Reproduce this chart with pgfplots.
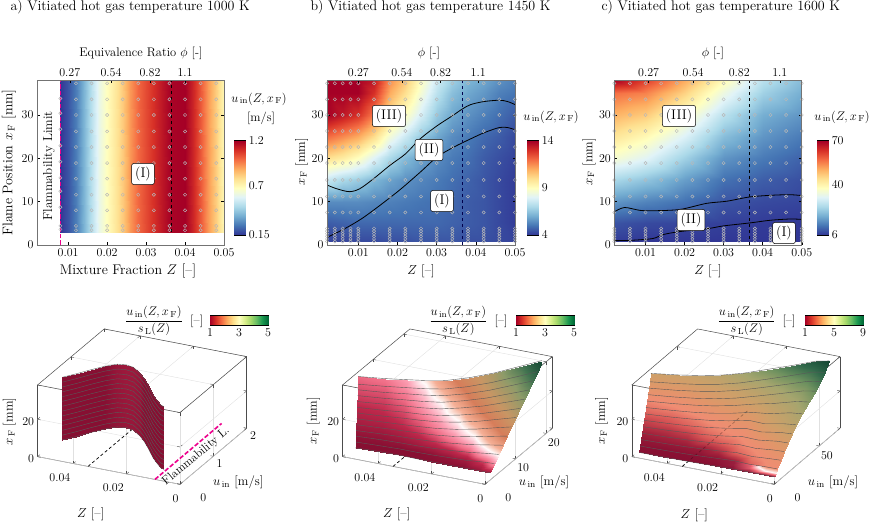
\documentclass[border=0pt]{standalone}
\usepackage{fix-cm}
\usepackage{pgfplots}
\usepackage{pgfplotstable}
\pgfplotsset{compat=1.18}
\newcommand{\fs}[1]{\fontsize{#1}{#1}\selectfont}
\newcommand{\uin}{u_{\,\mathrm{in}}}
\newcommand{\xf}{x_{\,\mathrm{F}}}

\pgfplotsset{
  colormap={rdylbu}{rgb255=(49,54,149) rgb255=(69,117,180) rgb255=(116,173,209) rgb255=(171,217,233) rgb255=(224,243,248) rgb255=(255,255,191) rgb255=(254,224,144) rgb255=(253,174,97) rgb255=(244,109,67) rgb255=(215,48,39) rgb255=(165,0,38)},
  colormap={rdylgn}{rgb255=(165,0,38) rgb255=(215,48,39) rgb255=(244,109,67) rgb255=(253,174,97) rgb255=(254,224,139) rgb255=(255,255,191) rgb255=(217,239,139) rgb255=(166,217,106) rgb255=(102,189,99) rgb255=(26,152,80) rgb255=(0,104,55)},
  colormap={surfb}{rgb255(0pt)=(135,15,50) rgb255(5pt)=(190,40,75) rgb255(9pt)=(240,110,135) rgb255(12.5pt)=(252,160,180) rgb255(17.5pt)=(255,250,250) rgb255(22.5pt)=(245,175,150) rgb255(32.5pt)=(215,125,90) rgb255(45pt)=(200,150,100) rgb255(62.5pt)=(140,155,105) rgb255(80pt)=(65,115,80) rgb255(100pt)=(18,70,50)},
  colormap={surfc}{rgb255(0pt)=(135,15,50) rgb255(7.5pt)=(165,35,60) rgb255(17.5pt)=(215,85,85) rgb255(27.5pt)=(240,140,115) rgb255(37.5pt)=(225,150,105) rgb255(47.5pt)=(205,160,105) rgb255(62.5pt)=(165,165,110) rgb255(75pt)=(110,145,95) rgb255(87.5pt)=(50,105,75) rgb255(100pt)=(18,70,50)},
  colormap={ridge}{rgb255(0pt)=(135,15,50) rgb255(40pt)=(245,110,120) rgb255(70pt)=(255,248,248) rgb255(100pt)=(240,145,115)},
  heatax/.style={scale only axis, enlargelimits=false, axis on top, clip=false,
    xmin=0.002, xmax=0.05, ymin=0, ymax=38, tick align=inside, scaled ticks=false,
    xtick pos=lower, xtick={0.01,0.02,0.03,0.04,0.05},
    xticklabels={0.01,0.02,0.03,0.04,0.05}, ytick={0,10,20,30},
    tick label style={font=\fs{12}}, major tick length=2.5pt, tick style={black,line width=.4pt},
    axis line style={draw=black!55, line width=.9pt}, colormap name=rdylbu},
  phiax/.style={scale only axis, enlargelimits=false, xmin=0.002, xmax=0.05, ymin=0, ymax=38,
    tick align=inside, scaled ticks=false, xticklabel pos=upper, xtick pos=upper, ytick=\empty,
    xticklabels={0.27,0.54,0.82,1.1}, tick label style={font=\fs{12}}, major tick length=2.5pt,
    tick style={black,line width=.4pt}, axis line style={draw=black!55, line width=.9pt}},
  vbar/.style={scale only axis, enlargelimits=false, width=11pt, height=94.3pt, xmin=0, xmax=1,
    xtick=\empty, yticklabel pos=right, ytick pos=right, tick align=inside, scaled ticks=false,
    major tick length=2pt, tick label style={font=\fs{12}}, axis line style={line width=.5pt},
    colormap name=rdylbu},
  hbar/.style={scale only axis, enlargelimits=false, width=58pt, height=9.3pt, ymin=0, ymax=1,
    ytick=\empty, xtick pos=lower, tick align=inside, major tick length=2pt, scaled ticks=false,
    tick label style={font=\fs{12}}, axis line style={line width=.5pt}, colormap name=rdylgn},
  box3d/.style={anchor=origin, xmin=0, xmax=0.0534, ymin=0, zmin=0, zmax=38.4,
    x={(-2667pt,518pt)}, z={(0pt,1.867pt)}, clip=false, scaled ticks=false,
    xtick={0,0.02,0.04}, xticklabels={\hspace*{18pt}0,0.02,0.04},
    xticklabel style={xshift=-9pt,yshift=-4.5pt}, ztick={0,20}, grid=major,
    grid style={black!12, line width=.4pt}, tick style={black!70,line width=.4pt},
    major tick length=3pt, tick label style={font=\fs{12}},
    axis line style={draw=black!70, line width=.5pt}},
  heatsurf/.style={surf, shader=interp, mesh/cols=#1, point meta=explicit},
  circ/.style={only marks, mark=o, mark size=1.6pt, mark options={draw=black!28, line width=.45pt}},
  stoich/.style={black, dashed, line width=.8pt},
  floorline/.style={black, dash pattern=on 3pt off 2.5pt, line width=.7pt},
  magline/.style={magenta, dash pattern=on 4.5pt off 2pt, line width=1.6pt},
  bline/.style={black, line width=.8pt, smooth},
  mlines/.style={black!65, line width=.4pt}
}

% heat maps: Z  xF  u
\pgfplotstableread{
Z xF u
0.008 2.8 0.15
0.008 38 0.15
0.01 2.8 0.2
0.01 38 0.2
0.012 2.8 0.27
0.012 38 0.27
0.014 2.8 0.38
0.014 38 0.38
0.016 2.8 0.5
0.016 38 0.5
0.018 2.8 0.6
0.018 38 0.6
0.02 2.8 0.68
0.02 38 0.68
0.022 2.8 0.75
0.022 38 0.75
0.024 2.8 0.83
0.024 38 0.83
0.026 2.8 0.92
0.026 38 0.92
0.028 2.8 1
0.028 38 1
0.03 2.8 1.05
0.03 38 1.05
0.032 2.8 1.1
0.032 38 1.1
0.034 2.8 1.15
0.034 38 1.15
0.036 2.8 1.19
0.036 38 1.19
0.04 2.8 1.2
0.04 38 1.2
0.042 2.8 1.12
0.042 38 1.12
0.044 2.8 1.02
0.044 38 1.02
0.046 2.8 0.92
0.046 38 0.92
0.048 2.8 0.82
0.048 38 0.82
0.05 2.8 0.7
0.05 38 0.7
}\heatA

\pgfplotstableread{
Z xF u
0.002 0.8 4.2
0.002 5 4.6
0.002 10 5.4
0.002 15 7.5
0.002 20 10
0.002 25 12
0.002 30 14.5
0.002 35 16
0.002 38 17
0.006 0.8 4.2
0.006 5 4.7
0.006 10 5.4
0.006 15 7
0.006 20 9.6
0.006 25 11.5
0.006 30 13.5
0.006 35 15
0.006 38 16
0.01 0.8 4.3
0.01 5 4.8
0.01 10 5.4
0.01 15 6.7
0.01 20 9
0.01 25 11
0.01 30 13
0.01 35 14.5
0.01 38 15
0.014 0.8 4.3
0.014 5 4.8
0.014 10 5.3
0.014 15 6.2
0.014 20 8
0.014 25 10
0.014 30 11.8
0.014 35 13
0.014 38 13.5
0.018 0.8 4.4
0.018 5 4.8
0.018 10 5.2
0.018 15 5.8
0.018 20 7
0.018 25 8.5
0.018 30 10
0.018 35 11
0.018 38 11.5
0.022 0.8 4.4
0.022 5 4.8
0.022 10 5.1
0.022 15 5.5
0.022 20 6.3
0.022 25 7.6
0.022 30 9
0.022 35 10
0.022 38 10.5
0.026 0.8 4.5
0.026 5 4.8
0.026 10 5
0.026 15 5.3
0.026 20 5.8
0.026 25 6.6
0.026 30 7.8
0.026 35 8.6
0.026 38 9
0.03 0.8 4.5
0.03 5 4.8
0.03 10 4.9
0.03 15 5.1
0.03 20 5.4
0.03 25 5.9
0.03 30 6.6
0.03 35 7.3
0.03 38 7.7
0.034 0.8 4.5
0.034 5 4.7
0.034 10 4.8
0.034 15 4.9
0.034 20 5.1
0.034 25 5.4
0.034 30 5.9
0.034 35 6.4
0.034 38 6.8
0.038 0.8 4.4
0.038 5 4.6
0.038 10 4.6
0.038 15 4.7
0.038 20 4.9
0.038 25 5.1
0.038 30 5.5
0.038 35 5.9
0.038 38 6.2
0.042 0.8 4.4
0.042 5 4.5
0.042 10 4.5
0.042 15 4.5
0.042 20 4.6
0.042 25 4.8
0.042 30 5.2
0.042 35 5.6
0.042 38 5.9
0.046 0.8 4.3
0.046 5 4.3
0.046 10 4.3
0.046 15 4.3
0.046 20 4.4
0.046 25 4.6
0.046 30 4.9
0.046 35 5.2
0.046 38 5.5
0.05 0.8 4.2
0.05 5 4.1
0.05 10 4.1
0.05 15 4.1
0.05 20 4.2
0.05 25 4.3
0.05 30 4.6
0.05 35 5
0.05 38 5.2
}\heatB

\pgfplotstableread{
Z xF u
0.002 0.8 6.5
0.002 5 9
0.002 10 16
0.002 15 25
0.002 20 36
0.002 25 43
0.002 30 50
0.002 35 57
0.002 38 72
0.01 0.8 6
0.01 5 8
0.01 10 14
0.01 15 22
0.01 20 32
0.01 25 39
0.01 30 47
0.01 35 55
0.01 38 62
0.02 0.8 6
0.02 5 7.5
0.02 10 12
0.02 15 17
0.02 20 24
0.02 25 31
0.02 30 38
0.02 35 46
0.02 38 51
0.03 0.8 6
0.03 5 7
0.03 10 9
0.03 15 12
0.03 20 16
0.03 25 21
0.03 30 27
0.03 35 34
0.03 38 39
0.04 0.8 6
0.04 5 6.5
0.04 10 8
0.04 15 10
0.04 20 13
0.04 25 16
0.04 30 19
0.04 35 24
0.04 38 27
0.05 0.8 6
0.05 5 6.2
0.05 10 7.5
0.05 15 8.5
0.05 20 10.5
0.05 25 13
0.05 30 16
0.05 35 19
0.05 38 21
}\heatC

% measurement points
\pgfplotstableread{
x y
0.008 33.8
0.008 30.4
0.008 26.7
0.008 22.9
0.008 19.2
0.008 15.5
0.008 12.4
0.008 8.7
0.008 4.4
0.008 3.6
0.012 37.3
0.012 33.6
0.012 30
0.012 26.2
0.012 22.6
0.012 18.9
0.012 15.3
0.012 11.6
0.012 8
0.012 4.4
0.012 3.4
0.016 37.3
0.016 33.6
0.016 30
0.016 26.2
0.016 22.6
0.016 18.9
0.016 15.3
0.016 11.6
0.016 8
0.016 4.4
0.016 3.4
0.02 37.3
0.02 33.6
0.02 30
0.02 26.2
0.02 22.6
0.02 18.9
0.02 15.3
0.02 11.6
0.02 8
0.02 4.4
0.02 3.4
0.024 37.3
0.024 33.6
0.024 30
0.024 26.2
0.024 22.6
0.024 18.9
0.024 15.3
0.024 11.6
0.024 8
0.024 4.4
0.024 3.4
0.028 37.3
0.028 33.6
0.028 30
0.028 26.2
0.028 22.6
0.028 18.9
0.028 15.3
0.028 11.6
0.028 8
0.028 4.4
0.028 3.4
0.032 37.3
0.032 33.6
0.032 30
0.032 26.2
0.032 22.6
0.032 18.9
0.032 15.3
0.032 11.6
0.032 8
0.032 4.4
0.032 3.4
0.036 37.3
0.036 33.6
0.036 30
0.036 26.2
0.036 22.6
0.036 18.9
0.036 15.3
0.036 11.6
0.036 8
0.036 4.4
0.036 3.4
0.04 37.3
0.04 33.6
0.04 30
0.04 26.2
0.04 22.6
0.04 18.9
0.04 15.3
0.04 11.6
0.04 8
0.04 4.4
0.04 3.4
0.044 37.3
0.044 33.6
0.044 30
0.044 26.2
0.044 22.6
0.044 18.9
0.044 15.3
0.044 11.6
0.044 8
0.044 4.4
0.044 3.4
0.048 37.3
0.048 33.6
0.048 30
0.048 26.2
0.048 22.6
0.048 18.9
0.048 15.3
0.048 11.6
0.048 8
0.048 4.4
0.048 3.4
}\marksA

\pgfplotstableread{
x y
0.002 37.3
0.002 33.6
0.002 30
0.002 26.3
0.002 22.6
0.002 18.9
0.002 15
0.002 11.2
0.002 7.5
0.002 3.8
0.002 3.2
0.002 2.6
0.002 2
0.002 1.4
0.002 0.8
0.006 37.3
0.006 33.6
0.006 30
0.006 26.3
0.006 22.6
0.006 18.9
0.006 15
0.006 11.2
0.006 7.5
0.006 3.8
0.006 3.2
0.006 2.6
0.006 2
0.006 1.4
0.006 0.8
0.01 37.3
0.01 33.6
0.01 30
0.01 26.3
0.01 22.6
0.01 18.9
0.01 15
0.01 11.2
0.01 7.5
0.01 3.8
0.01 3.2
0.01 2.6
0.01 2
0.01 1.4
0.01 0.8
0.014 37.3
0.014 33.6
0.014 30
0.014 26.3
0.014 22.6
0.014 18.9
0.014 15
0.014 11.2
0.014 7.5
0.014 3.8
0.014 3.2
0.014 2.6
0.014 2
0.014 1.4
0.014 0.8
0.018 37.3
0.018 33.6
0.018 30
0.018 26.3
0.018 22.6
0.018 18.9
0.018 15
0.018 11.2
0.018 7.5
0.018 3.8
0.018 3.2
0.018 2.6
0.018 2
0.018 1.4
0.018 0.8
0.022 37.3
0.022 33.6
0.022 30
0.022 26.3
0.022 22.6
0.022 18.9
0.022 15
0.022 11.2
0.022 7.5
0.022 3.8
0.022 3.2
0.022 2.6
0.022 2
0.022 1.4
0.022 0.8
0.026 37.3
0.026 33.6
0.026 30
0.026 26.3
0.026 22.6
0.026 18.9
0.026 15
0.026 11.2
0.026 7.5
0.026 3.8
0.026 3.2
0.026 2.6
0.026 2
0.026 1.4
0.026 0.8
0.03 37.3
0.03 33.6
0.03 30
0.03 26.3
0.03 22.6
0.03 18.9
0.03 15
0.03 11.2
0.03 7.5
0.03 3.8
0.03 3.2
0.03 2.6
0.03 2
0.03 1.4
0.03 0.8
0.034 37.3
0.034 33.6
0.034 30
0.034 26.3
0.034 22.6
0.034 18.9
0.034 15
0.034 11.2
0.034 7.5
0.034 3.8
0.034 3.2
0.034 2.6
0.034 2
0.034 1.4
0.034 0.8
0.038 37.3
0.038 33.6
0.038 30
0.038 26.3
0.038 22.6
0.038 18.9
0.038 15
0.038 11.2
0.038 7.5
0.038 3.8
0.038 3.2
0.038 2.6
0.038 2
0.038 1.4
0.038 0.8
0.042 37.3
0.042 33.6
0.042 30
0.042 26.3
0.042 22.6
0.042 18.9
0.042 15
0.042 11.2
0.042 7.5
0.042 3.8
0.042 3.2
0.042 2.6
0.042 2
0.042 1.4
0.042 0.8
0.046 37.3
0.046 33.6
0.046 30
0.046 26.3
0.046 22.6
0.046 18.9
0.046 15
0.046 11.2
0.046 7.5
0.046 3.8
0.046 3.2
0.046 2.6
0.046 2
0.046 1.4
0.046 0.8
0.05 37.3
0.05 33.6
0.05 30
0.05 26.3
0.05 22.6
0.05 18.9
0.05 15
0.05 11.2
0.05 7.5
0.05 3.8
0.05 3.2
0.05 2.6
0.05 2
0.05 1.4
0.05 0.8
}\marksBC

\pgfplotstableread{
x y
0.004 37.3
0.004 33.6
0.004 30
0.004 26.3
0.004 22.6
0.004 18.9
0.004 15
0.004 11.2
0.004 7.5
0.004 3.8
0.004 3.2
0.004 2.6
0.004 2
0.004 1.4
0.004 0.8
0.008 37.3
0.008 33.6
0.008 30
0.008 26.3
0.008 22.6
0.008 18.9
0.008 15
0.008 11.2
0.008 7.5
0.008 3.8
0.008 3.2
0.008 2.6
0.008 2
0.008 1.4
0.008 0.8
}\marksBx

% 3d surfaces: Z xF u r
\pgfplotstableread{
Z u lev
0.0084 0.19 0
0.01 0.22 0
0.013 0.34 0
0.016 0.47 0
0.019 0.62 0
0.022 0.77 0
0.025 0.91 0
0.028 1.03 0
0.032 1.16 0
0.035 1.19 0
0.038 1.16 0
0.041 1.03 0
0.044 0.85 0
0.047 0.65 0
0.05 0.47 0
}\curveA

\pgfplotstableread{
Z xF u r
0.0084 2.8 0.19 1
0.0084 36.4 0.19 1
0.01 2.8 0.22 1
0.01 36.4 0.22 1
0.013 2.8 0.34 1
0.013 36.4 0.34 1
0.016 2.8 0.47 1
0.016 36.4 0.47 1
0.019 2.8 0.62 1
0.019 36.4 0.62 1
0.022 2.8 0.77 1
0.022 36.4 0.77 1
0.025 2.8 0.91 1
0.025 36.4 0.91 1
0.028 2.8 1.03 1.04
0.028 36.4 1.03 1.06
0.032 2.8 1.16 1.06
0.032 36.4 1.16 1.08
0.035 2.8 1.19 1.06
0.035 36.4 1.19 1.08
0.038 2.8 1.16 1.04
0.038 36.4 1.16 1.06
0.041 2.8 1.03 1
0.041 36.4 1.03 1
0.044 2.8 0.85 1
0.044 36.4 0.85 1
0.047 2.8 0.65 1
0.047 36.4 0.65 1
0.05 2.8 0.47 1
0.05 36.4 0.47 1
}\surfA

\pgfplotstableread{
Z xF u r
0.002 1 3.4 1.1
0.002 4 4.8 1.45
0.002 7 6.2 1.75
0.002 10 7.6 2.05
0.002 13 9 2.35
0.002 16 10.4 2.65
0.002 19 11.9 2.95
0.002 22 13.3 3.25
0.002 25 14.7 3.55
0.002 28 16.1 3.85
0.002 31 17.5 4.2
0.002 34 18.9 4.6
0.002 38 20.3 5
0.006 1 3.4 1.05
0.006 4 4.6 1.25
0.006 7 5.8 1.6
0.006 10 6.9 1.85
0.006 13 8.1 2.1
0.006 16 9.3 2.3
0.006 19 10.5 2.55
0.006 22 11.6 2.8
0.006 25 12.8 3.05
0.006 28 14 3.3
0.006 31 15.2 3.55
0.006 34 16.3 3.85
0.006 38 17.5 4.2
0.012 1 3.3 1
0.012 4 4.1 1.1
0.012 7 5 1.3
0.012 10 5.8 1.5
0.012 13 6.7 1.68
0.012 16 7.5 1.85
0.012 19 8.4 2.05
0.012 22 9.2 2.25
0.012 25 10 2.45
0.012 28 10.9 2.65
0.012 31 11.7 2.85
0.012 34 12.6 3.05
0.012 38 13.4 3.2
0.018 1 3.3 1
0.018 4 3.9 1.05
0.018 7 4.5 1.2
0.018 10 5.1 1.35
0.018 13 5.6 1.47
0.018 16 6.2 1.58
0.018 19 6.8 1.68
0.018 22 7.4 1.8
0.018 25 8 1.95
0.018 28 8.6 2.1
0.018 31 9.1 2.25
0.018 34 9.7 2.4
0.018 38 10.3 2.6
0.024 1 3.3 1
0.024 4 3.7 1.02
0.024 7 4.1 1.12
0.024 10 4.5 1.22
0.024 13 4.9 1.32
0.024 16 5.3 1.4
0.024 19 5.7 1.47
0.024 22 6 1.55
0.024 25 6.4 1.63
0.024 28 6.8 1.72
0.024 31 7.2 1.83
0.024 34 7.6 1.95
0.024 38 8 2.1
0.03 1 3.3 1
0.03 4 3.6 1
0.03 7 3.9 1.08
0.03 10 4.2 1.15
0.03 13 4.5 1.22
0.03 16 4.8 1.28
0.03 19 5.1 1.34
0.03 22 5.3 1.4
0.03 25 5.6 1.46
0.03 28 5.9 1.52
0.03 31 6.2 1.58
0.03 34 6.5 1.64
0.03 38 6.8 1.75
0.036 1 3.4 1
0.036 4 3.6 1
0.036 7 3.8 1.05
0.036 10 4 1.1
0.036 13 4.2 1.15
0.036 16 4.4 1.2
0.036 19 4.7 1.24
0.036 22 4.9 1.28
0.036 25 5.1 1.32
0.036 28 5.3 1.36
0.036 31 5.5 1.4
0.036 34 5.7 1.45
0.036 38 5.9 1.5
0.043 1 3.3 1
0.043 4 3.4 1
0.043 7 3.6 1.03
0.043 10 3.7 1.07
0.043 13 3.8 1.11
0.043 16 4 1.15
0.043 19 4.1 1.18
0.043 22 4.2 1.21
0.043 25 4.4 1.24
0.043 28 4.5 1.27
0.043 31 4.6 1.3
0.043 34 4.8 1.34
0.043 38 4.9 1.38
0.052 1 3 1
0.052 4 3.1 1
0.052 7 3.2 1.03
0.052 10 3.2 1.06
0.052 13 3.3 1.1
0.052 16 3.4 1.13
0.052 19 3.5 1.16
0.052 22 3.5 1.19
0.052 25 3.6 1.22
0.052 28 3.7 1.25
0.052 31 3.8 1.28
0.052 34 3.8 1.31
0.052 38 3.9 1.35
}\surfB

\pgfplotstableread{
Z xF u r
0.002 1 6 1
0.002 4 9 3.2
0.002 7 13 3.6
0.002 10 17 4
0.002 13 21 4.4
0.002 16 25.5 4.9
0.002 19 30 5.4
0.002 22 37 5.9
0.002 25 45 6.5
0.002 28 52 7.1
0.002 31 57 7.7
0.002 34 62 8.3
0.002 38 67 9
0.006 1 6 1
0.006 4 8.9 3.2
0.006 7 12.4 3.4
0.006 10 16.4 3.8
0.006 13 20.5 4.2
0.006 16 24.6 4.6
0.006 19 28.6 5.1
0.006 22 35.6 5.5
0.006 25 43.1 6
0.006 28 49.5 6.5
0.006 31 54.7 7.2
0.006 34 59.4 7.8
0.006 38 64 8.6
0.012 1 5.8 1
0.012 4 8.2 2.6
0.012 7 11.1 3
0.012 10 14.5 3.3
0.012 13 17.9 3.7
0.012 16 21.2 4.1
0.012 19 24.6 4.5
0.012 22 30.4 4.9
0.012 25 36.6 5.4
0.012 28 42 5.8
0.012 31 46.3 6.3
0.012 34 50.1 7
0.012 38 54 7.7
0.018 1 5.7 1
0.018 4 8.8 1.5
0.018 7 12 2.6
0.018 10 15.1 3
0.018 13 18.3 3.3
0.018 16 21.8 3.6
0.018 19 25 4
0.018 22 28.1 4.4
0.018 25 31.6 4.8
0.018 28 34.8 5.2
0.018 31 38.3 5.6
0.018 34 41.5 6.1
0.018 38 45 6.8
0.024 1 5.3 1
0.024 4 7.8 1.2
0.024 7 10.2 1.8
0.024 10 12.7 2.5
0.024 13 15.1 3
0.024 16 17.9 3.3
0.024 19 20.3 3.6
0.024 22 22.8 3.9
0.024 25 25.6 4.3
0.024 28 28 4.7
0.024 31 30.8 5
0.024 34 33.2 5.5
0.024 38 36 6
0.03 1 4.8 1
0.03 4 6.8 1.1
0.03 7 8.8 1.4
0.03 10 10.7 2.1
0.03 13 12.7 2.6
0.03 16 14.9 3
0.03 19 16.9 3.3
0.03 22 18.9 3.6
0.03 25 21.1 3.9
0.03 28 23.1 4.3
0.03 31 25.3 4.6
0.03 34 27.3 5
0.03 38 29.5 5.4
0.036 1 4.4 1
0.036 4 6 1.05
0.036 7 7.7 1.3
0.036 10 9.3 1.7
0.036 13 11 2.1
0.036 16 12.8 2.6
0.036 19 14.5 2.9
0.036 22 16.1 3.3
0.036 25 18 3.6
0.036 28 19.6 3.9
0.036 31 21.5 4.3
0.036 34 23.1 4.7
0.036 38 25 5.1
0.043 1 4.2 1
0.043 4 5.5 1.05
0.043 7 6.9 1.25
0.043 10 8.2 1.6
0.043 13 9.6 1.9
0.043 16 11.1 2.3
0.043 19 12.4 2.6
0.043 22 13.8 3
0.043 25 15.3 3.3
0.043 28 16.6 3.6
0.043 31 18.1 4
0.043 34 19.5 4.4
0.043 38 21 4.9
0.052 1 4 1
0.052 4 5 1.05
0.052 7 6.1 1.2
0.052 10 7.1 1.5
0.052 13 8.2 1.8
0.052 16 9.3 2.1
0.052 19 10.4 2.5
0.052 22 11.4 2.8
0.052 25 12.6 3.1
0.052 28 13.6 3.5
0.052 31 14.8 3.9
0.052 34 15.8 4.3
0.052 38 17 4.8
}\surfC

\pgfplotstableread{
Z xF u r
0.002 1 6 1
0.002 2.5 7.5 6.6
0.002 4 9 9
0.006 1 6 1
0.006 2.5 7.4 6.4
0.006 4 8.9 9
0.012 1 5.8 1
0.012 2.5 7 3.5
0.012 4 8.2 3.8
0.018 1 5.7 1
0.018 2.5 7.2 1.5
0.018 4 8.8 1.56
0.024 1 5.3 1
0.024 2.5 6.5 1.15
0.024 4 7.8 1.29
}\ridgeC

\begin{document}
\begin{tikzpicture}
\path[use as bounding box] (0pt,0pt) rectangle (872pt,524pt);

%---- panel a, map
\begin{axis}[heatax, at={(37pt,279pt)}, anchor=south west, width=187pt, height=164.7pt,
  point meta min=0.15, point meta max=1.2]
  \addplot[heatsurf=2] table[x=Z,y=xF,meta=u] {\heatA};
  \addplot[circ] table[x=x,y=y] {\marksA};
  \addplot[stoich] coordinates {(0.0365,3) (0.0365,38)};
  \addplot[magline] coordinates {(0.008,0) (0.008,38)};
\end{axis}
\begin{axis}[phiax, at={(37pt,279pt)}, anchor=south west, width=187pt, height=164.7pt,
  xtick={0.0104,0.021,0.031,0.04}]
\end{axis}
\begin{axis}[vbar, at={(234.3pt,289pt)}, anchor=south west, ymin=0.15, ymax=1.2,
  ytick={0.15,0.7,1.2}, yticklabels={0.15,0.7,1.2}, point meta min=0.15, point meta max=1.2]
  \addplot[surf, shader=interp, mesh/cols=2, point meta=y] coordinates {(0,0.15) (1,0.15) (0,1.2) (1,1.2)};
\end{axis}

%---- panel b, map
\begin{axis}[heatax, at={(327pt,279pt)}, anchor=south west, width=188pt, height=164.7pt,
  point meta min=4, point meta max=14]
  \addplot[heatsurf=9] table[x=Z,y=xF,meta=u] {\heatB};
  \addplot[circ] table[x=x,y=y] {\marksBC};
  \addplot[circ] table[x=x,y=y] {\marksBx};
  \addplot[bline] coordinates {(0.0021,13.8) (0.0044,13) (0.0077,12.3) (0.0104,13) (0.0139,15.3) (0.0181,18.4) (0.022,21) (0.0258,24.5) (0.0301,27.5) (0.034,29.8) (0.0366,31.4) (0.0387,32.4) (0.0421,33.1) (0.046,33.4) (0.0481,33.1) (0.05,32.4)};
  \addplot[bline] coordinates {(0.0021,1.8) (0.0066,3.8) (0.0109,6.1) (0.0156,9.2) (0.0207,12.8) (0.0258,16.8) (0.0301,20.3) (0.0344,22.6) (0.0387,24.5) (0.0421,25.9) (0.046,27.1) (0.0481,27.1) (0.05,26.6)};
  \addplot[stoich, draw=blue!30!black, line width=1pt] coordinates {(0.0365,0) (0.0365,38)};
\end{axis}
\begin{axis}[phiax, at={(327pt,279pt)}, anchor=south west, width=188pt, height=164.7pt,
  xtick={0.01,0.0211,0.031,0.0406}]
\end{axis}
\begin{axis}[vbar, at={(527.3pt,289pt)}, anchor=south west, ymin=4, ymax=14,
  ytick={4,9,14}, point meta min=4, point meta max=14]
  \addplot[surf, shader=interp, mesh/cols=2, point meta=y] coordinates {(0,4) (1,4) (0,14) (1,14)};
\end{axis}

%---- panel c, map
\begin{axis}[heatax, at={(614.3pt,279pt)}, anchor=south west, width=187.4pt, height=164.7pt,
  point meta min=6, point meta max=70]
  \addplot[heatsurf=9] table[x=Z,y=xF,meta=u] {\heatC};
  \addplot[circ] table[x=x,y=y] {\marksBC};
  \addplot[bline] coordinates {(0.002,7.65) (0.0046,8.65) (0.0085,8) (0.0119,7.9) (0.0188,8.2) (0.0256,9.6) (0.0308,10.1) (0.0368,11.1) (0.0428,11.5) (0.0471,11.6) (0.05,11.4)};
  \addplot[bline] coordinates {(0.002,1) (0.0067,1.1) (0.0119,1.5) (0.0145,2.4) (0.0188,3.1) (0.0261,3.8) (0.0299,4.4) (0.0368,5.1) (0.0419,5.7) (0.0471,6) (0.05,5.9)};
  \addplot[stoich] coordinates {(0.0365,0) (0.0365,38)};
\end{axis}
\begin{axis}[phiax, at={(614.3pt,279pt)}, anchor=south west, width=187.4pt, height=164.7pt,
  xtick={0.0108,0.0222,0.034,0.0444}]
\end{axis}
\begin{axis}[vbar, at={(817.3pt,289pt)}, anchor=south west, ymin=6, ymax=70,
  ytick={6,40,70}, point meta min=6, point meta max=70]
  \addplot[surf, shader=interp, mesh/cols=2, point meta=y] coordinates {(0,6) (1,6) (0,70) (1,70)};
\end{axis}

%---- panel a, 3d
\begin{axis}[box3d, at={(180pt,39.7pt)}, ymax=2, y={(33.33pt,28pt)},
  ytick={0,1,2}, yticklabels={\hspace*{24pt}0,1,2}, colormap name=surfb, point meta min=1, point meta max=5]
  \addplot3[floorline] coordinates {(0.0345,0,0) (0.0345,2,0)};
  \addplot3[magline] coordinates {(0.0094,0,0) (0.0094,2,0)};
  \addplot3[surf, shader=interp, mesh/cols=2, point meta=explicit] table[x=Z,y=u,z=xF,meta=r] {\surfA};
  \pgfplotsinvokeforeach{2.8,5.4,8,10.6,13.1,15.7,18.3,20.9,23.5,26,28.6,31.2,33.8,36.4}{
    \addplot3[mlines] table[x=Z,y=u,z expr=#1] {\curveA};
  }
\end{axis}

%---- panel b, 3d
\begin{axis}[box3d, at={(485pt,39.7pt)}, ymax=22, y={(3.06pt,2.545pt)},
  ytick={0,10,20}, yticklabels={\hspace*{24pt}0,10,20}, colormap name=surfb, point meta min=1, point meta max=5]
  \addplot3[floorline] coordinates {(0.0345,0,0) (0.0345,22,0)};
  \addplot3[surf, shader=interp, mesh/cols=13, point meta=explicit] table[x=Z,y=u,z=xF,meta=r] {\surfB};
  \addplot3[mlines, empty line=jump] coordinates {
(0.002,3.4,1) (0.006,3.4,1) (0.012,3.3,1) (0.018,3.3,1) (0.024,3.3,1) (0.03,3.3,1) (0.036,3.4,1) (0.043,3.3,1) (0.052,3,1)

(0.002,4.8,4) (0.006,4.6,4) (0.012,4.1,4) (0.018,3.9,4) (0.024,3.7,4) (0.03,3.6,4) (0.036,3.6,4) (0.043,3.4,4) (0.052,3.1,4)

(0.002,6.2,7) (0.006,5.8,7) (0.012,5,7) (0.018,4.5,7) (0.024,4.1,7) (0.03,3.9,7) (0.036,3.8,7) (0.043,3.6,7) (0.052,3.2,7)

(0.002,7.6,10) (0.006,6.9,10) (0.012,5.8,10) (0.018,5.1,10) (0.024,4.5,10) (0.03,4.2,10) (0.036,4,10) (0.043,3.7,10) (0.052,3.2,10)

(0.002,9,13) (0.006,8.1,13) (0.012,6.7,13) (0.018,5.6,13) (0.024,4.9,13) (0.03,4.5,13) (0.036,4.2,13) (0.043,3.8,13) (0.052,3.3,13)

(0.002,10.4,16) (0.006,9.3,16) (0.012,7.5,16) (0.018,6.2,16) (0.024,5.3,16) (0.03,4.8,16) (0.036,4.4,16) (0.043,4,16) (0.052,3.4,16)

(0.002,11.9,19) (0.006,10.5,19) (0.012,8.4,19) (0.018,6.8,19) (0.024,5.7,19) (0.03,5.1,19) (0.036,4.7,19) (0.043,4.1,19) (0.052,3.5,19)

(0.002,13.3,22) (0.006,11.6,22) (0.012,9.2,22) (0.018,7.4,22) (0.024,6,22) (0.03,5.3,22) (0.036,4.9,22) (0.043,4.2,22) (0.052,3.5,22)

(0.002,14.7,25) (0.006,12.8,25) (0.012,10,25) (0.018,8,25) (0.024,6.4,25) (0.03,5.6,25) (0.036,5.1,25) (0.043,4.4,25) (0.052,3.6,25)

(0.002,16.1,28) (0.006,14,28) (0.012,10.9,28) (0.018,8.6,28) (0.024,6.8,28) (0.03,5.9,28) (0.036,5.3,28) (0.043,4.5,28) (0.052,3.7,28)

(0.002,17.5,31) (0.006,15.2,31) (0.012,11.7,31) (0.018,9.1,31) (0.024,7.2,31) (0.03,6.2,31) (0.036,5.5,31) (0.043,4.6,31) (0.052,3.8,31)

(0.002,18.9,34) (0.006,16.3,34) (0.012,12.6,34) (0.018,9.7,34) (0.024,7.6,34) (0.03,6.5,34) (0.036,5.7,34) (0.043,4.8,34) (0.052,3.8,34)

(0.002,20.3,38) (0.006,17.5,38) (0.012,13.4,38) (0.018,10.3,38) (0.024,8,38) (0.03,6.8,38) (0.036,5.9,38) (0.043,4.9,38) (0.052,3.9,38)
  };
\end{axis}

%---- panel c, 3d
\begin{axis}[box3d, at={(774.3pt,39.7pt)}, ymax=73, y={(0.9pt,0.767pt)},
  ytick={0,50}, yticklabels={\hspace*{24pt}0,50}, colormap name=surfc, point meta min=1, point meta max=9]
  \addplot3[floorline] coordinates {(0.0345,0,0) (0.0345,73,0)};
  \addplot3[surf, shader=interp, mesh/cols=13, point meta=explicit] table[x=Z,y=u,z=xF,meta=r] {\surfC};
  \addplot3[surf, shader=interp, mesh/cols=3, point meta=explicit, colormap name=ridge] table[x=Z,y=u,z=xF,meta=r] {\ridgeC};
  \addplot3[floorline, opacity=.3] coordinates {(0.0345,0,0) (0.0345,73,0)};
  \addplot3[mlines, empty line=jump] coordinates {
(0.002,6,1) (0.006,6,1) (0.012,5.8,1) (0.018,5.7,1) (0.024,5.3,1) (0.03,4.8,1) (0.036,4.4,1) (0.043,4.2,1) (0.052,4,1)

(0.002,9,4) (0.006,8.9,4) (0.012,8.2,4) (0.018,8.8,4) (0.024,7.8,4) (0.03,6.8,4) (0.036,6,4) (0.043,5.5,4) (0.052,5,4)

(0.002,13,7) (0.006,12.4,7) (0.012,11.1,7) (0.018,12,7) (0.024,10.2,7) (0.03,8.8,7) (0.036,7.7,7) (0.043,6.9,7) (0.052,6.1,7)

(0.002,17,10) (0.006,16.4,10) (0.012,14.5,10) (0.018,15.1,10) (0.024,12.7,10) (0.03,10.7,10) (0.036,9.3,10) (0.043,8.2,10) (0.052,7.1,10)

(0.002,21,13) (0.006,20.5,13) (0.012,17.9,13) (0.018,18.3,13) (0.024,15.1,13) (0.03,12.7,13) (0.036,11,13) (0.043,9.6,13) (0.052,8.2,13)

(0.002,25.5,16) (0.006,24.6,16) (0.012,21.2,16) (0.018,21.8,16) (0.024,17.9,16) (0.03,14.9,16) (0.036,12.8,16) (0.043,11.1,16) (0.052,9.3,16)

(0.002,30,19) (0.006,28.6,19) (0.012,24.6,19) (0.018,25,19) (0.024,20.3,19) (0.03,16.9,19) (0.036,14.5,19) (0.043,12.4,19) (0.052,10.4,19)

(0.002,37,22) (0.006,35.6,22) (0.012,30.4,22) (0.018,28.1,22) (0.024,22.8,22) (0.03,18.9,22) (0.036,16.1,22) (0.043,13.8,22) (0.052,11.4,22)

(0.002,45,25) (0.006,43.1,25) (0.012,36.6,25) (0.018,31.6,25) (0.024,25.6,25) (0.03,21.1,25) (0.036,18,25) (0.043,15.3,25) (0.052,12.6,25)

(0.002,52,28) (0.006,49.5,28) (0.012,42,28) (0.018,34.8,28) (0.024,28,28) (0.03,23.1,28) (0.036,19.6,28) (0.043,16.6,28) (0.052,13.6,28)

(0.002,57,31) (0.006,54.7,31) (0.012,46.3,31) (0.018,38.3,31) (0.024,30.8,31) (0.03,25.3,31) (0.036,21.5,31) (0.043,18.1,31) (0.052,14.8,31)

(0.002,62,34) (0.006,59.4,34) (0.012,50.1,34) (0.018,41.5,34) (0.024,33.2,34) (0.03,27.3,34) (0.036,23.1,34) (0.043,19.5,34) (0.052,15.8,34)

(0.002,67,38) (0.006,64,38) (0.012,54,38) (0.018,45,38) (0.024,36,38) (0.03,29.5,38) (0.036,25,38) (0.043,21,38) (0.052,17,38)
  };
\end{axis}

%---- small colour bars
\begin{axis}[hbar, at={(210pt,199pt)}, anchor=south west, xmin=1, xmax=5, xtick={1,3,5}, point meta min=1, point meta max=5]
  \addplot[surf, shader=interp, mesh/cols=2, point meta=x] coordinates {(1,0) (1,1) (5,0) (5,1)};
\end{axis}
\begin{axis}[hbar, at={(516pt,199pt)}, anchor=south west, xmin=1, xmax=5, xtick={1,3,5}, point meta min=1, point meta max=5]
  \addplot[surf, shader=interp, mesh/cols=2, point meta=x] coordinates {(1,0) (1,1) (5,0) (5,1)};
\end{axis}
\begin{axis}[hbar, at={(805pt,199pt)}, anchor=south west, xmin=1, xmax=9, xtick={1,5,9}, point meta min=1, point meta max=9]
  \addplot[surf, shader=interp, mesh/cols=2, point meta=x] coordinates {(1,0) (1,1) (9,0) (9,1)};
\end{axis}

%---- titles
\node[anchor=west, font=\fs{14}] at (7pt,516.7pt) {a) Vitiated hot gas temperature 1000 K};
\node[anchor=west, font=\fs{14}] at (307pt,516.7pt) {b) Vitiated hot gas temperature 1450 K};
\node[anchor=west, font=\fs{14}] at (598pt,516.7pt) {c) Vitiated hot gas temperature 1600 K};

%---- map labels
\node[font=\fs{12.5}] at (141pt,470.7pt) {Equivalence Ratio $\phi$ [-]};
\node[font=\fs{12.5}] at (429pt,470.7pt) {$\phi$ [-]};
\node[font=\fs{12.5}] at (713pt,470.7pt) {$\phi$ [-]};
\node[font=\fs{14}] at (128pt,252.5pt) {Mixture Fraction $Z$ [--]};
\node[font=\fs{13}] at (421pt,252.5pt) {$Z$ [--]};
\node[font=\fs{13}] at (708pt,252.5pt) {$Z$ [--]};
\node[font=\fs{14}, rotate=90] at (9pt,361.5pt) {Flame Position $\xf$ [mm]};
\node[font=\fs{13}, rotate=90] at (301.5pt,362pt) {$\xf$ [mm]};
\node[font=\fs{13}, rotate=90] at (589pt,362pt) {$\xf$ [mm]};
\node[font=\fs{12.5}] at (259pt,425pt) {$\uin(Z,\xf)$};
\node[font=\fs{12.5}] at (261pt,406pt) {[m/s]};
\node[font=\fs{12.5}] at (551pt,407pt) {$\uin(Z,\xf)$};
\node[font=\fs{12.5}] at (842pt,407pt) {$\uin(Z,\xf)$};
\node[font=\fs{13}, rotate=90] at (49pt,358pt) {Flammability Limit};
\tikzset{reg/.style={draw=black, line width=.5pt, fill=white, rounded corners=2pt, font=\fs{14}, inner sep=3.5pt}}
\node[reg] at (143pt,350pt) {(I)};
\node[reg] at (389pt,408pt) {(III)};
\node[reg] at (429pt,374pt) {(II)};
\node[reg] at (442pt,323pt) {(I)};
\node[reg] at (679pt,408pt) {(III)};
\node[reg] at (691pt,304pt) {(II)};
\node[reg] at (784pt,291pt) {(I)};

%---- 3d labels
\node[font=\fs{12.5}] at (154pt,203pt) {$\displaystyle\frac{\uin(Z,\xf)}{s_{\,\mathrm{L}}(Z)}$};
\node[font=\fs{12.5}] at (196.7pt,203pt) {[--]};
\node[font=\fs{12.5}] at (458.3pt,203pt) {$\displaystyle\frac{\uin(Z,\xf)}{s_{\,\mathrm{L}}(Z)}$};
\node[font=\fs{12.5}] at (501pt,203pt) {[--]};
\node[font=\fs{12.5}] at (746.7pt,203pt) {$\displaystyle\frac{\uin(Z,\xf)}{s_{\,\mathrm{L}}(Z)}$};
\node[font=\fs{12.5}] at (789pt,203pt) {[--]};
\node[font=\fs{13}] at (90.7pt,10pt) {$Z$ [--]};
\node[font=\fs{13}] at (396.7pt,10pt) {$Z$ [--]};
\node[font=\fs{13}] at (694.3pt,9pt) {$Z$ [--]};
\node[font=\fs{13}] at (238.3pt,41.3pt) {$\uin$ [m/s]};
\node[font=\fs{13}] at (544pt,41.3pt) {$\uin$ [m/s]};
\node[font=\fs{13}] at (833pt,41.3pt) {$\uin$ [m/s]};
\node[font=\fs{13}, rotate=90] at (9.3pt,102.3pt) {$\xf$ [mm]};
\node[font=\fs{13}, rotate=90] at (313.3pt,103pt) {$\xf$ [mm]};
\node[font=\fs{13}, rotate=90] at (601.7pt,103pt) {$\xf$ [mm]};
\node[font=\fs{12}, rotate=40] at (196pt,67.5pt) {Flammability L.};
\end{tikzpicture}
\end{document}
